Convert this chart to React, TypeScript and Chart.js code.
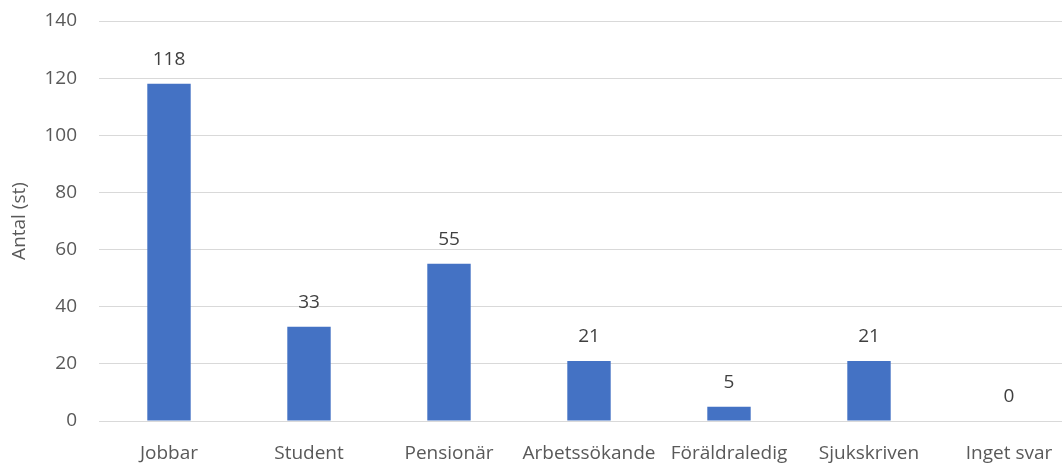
import React, { useEffect, useRef } from "react";
import { Chart, registerables } from "chart.js";

Chart.register(...registerables);

const categories = ["Jobbar", "Student", "Pensionär", "Arbetssökande", "Föräldraledig", "Sjukskriven", "Inget svar"];
const values = [118, 33, 55, 21, 5, 21, 0];
const yTitle = "Antal (st)";

const FONT = "'Open Sans', sans-serif";
const TEXT = "#595959";

const labelPlugin = {
  id: "valueLabels",
  afterDatasetsDraw(chart: any) {
    const ctx = chart.ctx;
    const meta = chart.getDatasetMeta(0);
    ctx.save();
    ctx.font = `19px ${FONT}`;
    ctx.fillStyle = "#404040";
    ctx.textAlign = "center";
    ctx.textBaseline = "middle";
    meta.data.forEach((bar: any, i: number) => {
      ctx.fillText(String(values[i]), bar.x, bar.y - 24);
    });
    ctx.restore();
  },
};

export default function App() {
  const ref = useRef<HTMLCanvasElement>(null);
  useEffect(() => {
    const chart = new Chart(ref.current!, {
      type: "bar",
      data: {
        labels: categories,
        datasets: [
          {
            data: values,
            backgroundColor: "#4472C4",
            barPercentage: 1,
            categoryPercentage: 0.31,
          },
        ],
      },
      options: {
        animation: false,
        responsive: false,
        maintainAspectRatio: false,
        layout: { padding: { top: 21, right: 0, left: 0, bottom: 0 } },
        plugins: { legend: { display: false }, tooltip: { enabled: false } },
        scales: {
          x: {
            grid: { display: false, drawTicks: false },
            border: { color: "#d9d9d9", width: 1 },
            ticks: { color: TEXT, font: { family: FONT, size: 19 }, padding: 21, maxRotation: 0, autoSkip: false },
            afterFit: (s: any) => { s.height = 43; s.paddingLeft = 0; s.paddingRight = 0; },
          },
          y: {
            min: 0,
            max: 140,
            ticks: { stepSize: 20, color: TEXT, font: { family: FONT, size: 19 }, padding: 22 },
            grid: { color: "#d9d9d9", drawTicks: false },
            border: { display: false },
            title: { display: true, text: yTitle, color: TEXT, font: { family: FONT, size: 19 }, padding: { top: 8, bottom: 0 } },
            afterFit: (s: any) => { s.width = 99; s.paddingTop = 0; s.paddingBottom = 0; },
          },
        },
      },
      plugins: [labelPlugin],
    });
    return () => chart.destroy();
  }, []);
  return (
    <div style={{ position: "fixed", left: 0, top: 0, width: 1062, height: 464, overflow: "hidden", background: "#fff" }}>
      <canvas ref={ref} width={1079} height={464} style={{ display: "block", width: 1079, height: 464 }} />
    </div>
  );
}
